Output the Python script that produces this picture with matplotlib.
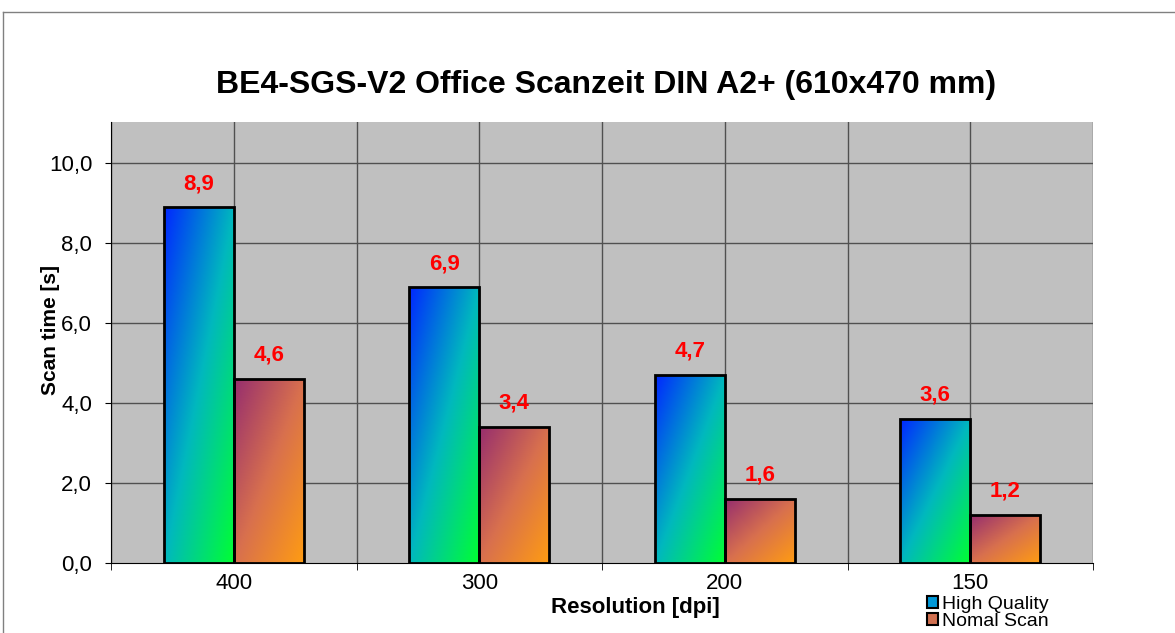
import numpy as np
import matplotlib
matplotlib.use('Agg')
from matplotlib import pyplot as plt
from matplotlib.colors import LinearSegmentedColormap
from matplotlib.patches import Patch
from matplotlib.lines import Line2D

resolutions = ['400', '300', '200', '150']
high_quality = [8.9, 6.9, 4.7, 3.6]
normal_scan = [4.6, 3.4, 1.6, 1.2]
series_names = ['High Quality', 'Nomal Scan']

plt.rcParams['font.family'] = ['Liberation Sans', 'DejaVu Sans']

cmap_hq = LinearSegmentedColormap.from_list('hq', ['#0028ff', '#00b8be', '#00ff32'])
cmap_ns = LinearSegmentedColormap.from_list('ns', ['#962e6e', '#d8704e', '#ff9c12'])

# diagonal gradient, top-left -> bottom-right
u, v = np.meshgrid(np.linspace(0, 1, 60), np.linspace(0, 1, 200))
grad = (u + v) / 2

fig = plt.figure(figsize=(11.75, 6.33), dpi=100)
ax = fig.add_axes([111/1175, 1-563/633, (1093-111)/1175, (563-122)/633])
ax.set_facecolor('#c0c0c0')

x = np.arange(len(resolutions))
w = 0.286

for i in range(len(x)):
    for vals, cm, off in [(high_quality, cmap_hq, -w/2), (normal_scan, cmap_ns, w/2)]:
        x0 = x[i] + off - w/2
        h = vals[i]
        ax.imshow(grad, cmap=cm, extent=(x0, x0 + w, 0, h), origin='upper',
                  aspect='auto', zorder=2, interpolation='bilinear')
        ax.bar(x[i] + off, h, w, facecolor='none', edgecolor='black', lw=2, zorder=3)
        ax.annotate(f'{h:.1f}'.replace('.', ','), (x[i] + off, h), xytext=(0, 17),
                    textcoords='offset points', ha='center', va='center',
                    color='red', fontsize=16, fontweight='bold', zorder=4)

ax.set_xlim(-0.5, 3.5)
ax.set_ylim(0, 11.03)
ax.set_yticks(np.arange(0, 11, 2))
ax.set_yticklabels([f'{t:.1f}'.replace('.', ',') for t in np.arange(0, 11, 2)], fontsize=16)
ax.set_xticks(x)
ax.set_xticklabels(resolutions, fontsize=16)
ax.set_xticks(np.arange(-0.5, 4, 1), minor=True)
ax.tick_params(axis='x', which='major', length=0, pad=7)
ax.tick_params(axis='x', which='minor', length=5, direction='out')
ax.tick_params(axis='y', length=4.5, pad=9, direction='out')

for gx in np.arange(-0.5, 4, 0.5):
    ax.axvline(gx, color='#505050', lw=1, zorder=1)
for gy in np.arange(2, 11, 2):
    ax.axhline(gy, color='#505050', lw=1, zorder=1)

ax.spines['top'].set_visible(False)
ax.spines['right'].set_visible(False)
ax.spines['left'].set_zorder(5)
ax.spines['bottom'].set_zorder(5)

ax.set_ylabel('Scan time [s]', fontsize=15, fontweight='bold', va='center')
ax.yaxis.set_label_coords((51-111)/982, (563-330)/441)
ax.set_xlabel('Resolution [dpi]', fontsize=16, fontweight='bold', va='center')
ax.xaxis.set_label_coords((635-111)/982, (563-608)/441)
fig.text(606/1175, 1-85/633, 'BE4-SGS-V2 Office Scanzeit DIN A2+ (610x470 mm)',
         ha='center', va='center', fontsize=23, fontweight='bold')

handles = [Patch(facecolor='#0098d8', edgecolor='black', lw=1.5),
           Patch(facecolor='#d07050', edgecolor='black', lw=1.5)]
fig.legend(handles, series_names, loc='upper left', bbox_to_anchor=(927/1175, 1-596/633),
           frameon=False, fontsize=14, handlelength=0.55, handleheight=0.55,
           handletextpad=0.2, labelspacing=0.0, borderpad=0, borderaxespad=0)

# outer chart frame
fig.add_artist(Line2D([3/1175, 3/1175], [0, 1-12/633], transform=fig.transFigure, color='#808080', lw=1))
fig.add_artist(Line2D([3/1175, 1], [1-12/633, 1-12/633], transform=fig.transFigure, color='#808080', lw=1))

fig.savefig('out.png', dpi=100)
